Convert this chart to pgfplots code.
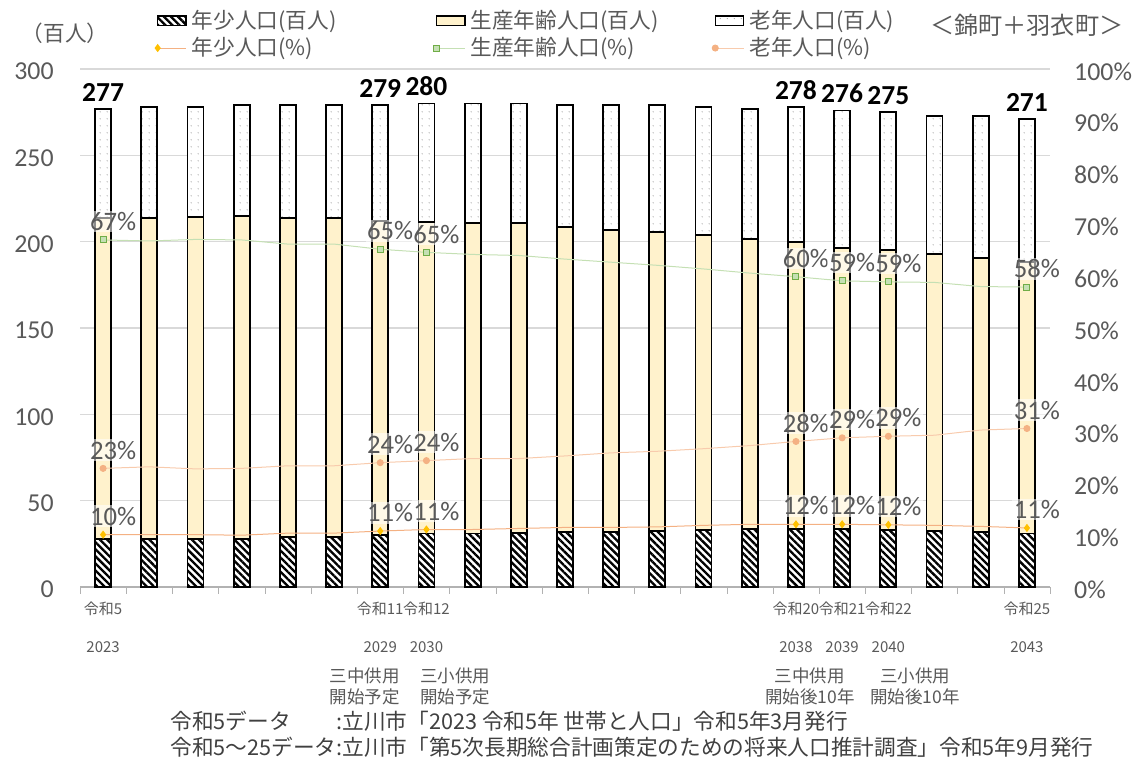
\documentclass[border=0pt]{standalone}
\usepackage{fontspec}
\setmainfont{Carlito}
\newfontfamily\jp{Noto Sans CJK JP}
\usepackage{pgfplots}
\pgfplotsset{compat=1.18}
\usepackage{pgfplotstable}
\usetikzlibrary{patterns.meta}

\definecolor{txtgray}{HTML}{595959}
\definecolor{gridc}{HTML}{D9D9D9}
\definecolor{prodfill}{HTML}{FFF2CC}
\definecolor{youthline}{HTML}{F4B183}
\definecolor{youthmark}{HTML}{FFC000}
\definecolor{prodline}{HTML}{C5E0B4}
\definecolor{prodmark}{HTML}{70AD47}
\definecolor{oldline}{HTML}{F8CBAD}
\definecolor{oldmark}{HTML}{F4B183}

% population, hundreds of people
\pgfplotstableread{
x young prod old tot
0 28 185.5 63.5 277
1 28 185.6 64.4 {}
2 28 186.5 63.5 {}
3 28 187 64 {}
4 29 184.6 65.4 {}
5 29 184.6 65.4 {}
6 30 182 67 279
7 31 180.6 68.4 280
8 31 179.7 69.3 {}
9 31.5 179.2 69.3 {}
10 32 176.5 70.5 {}
11 32 174.8 72.2 {}
12 32.5 173.3 73.2 {}
13 33 170.8 74.2 {}
14 33.5 168 75.5 {}
15 33.5 166.5 78 278
16 33.5 163 79.5 276
17 33 162 80 275
18 32.5 160.5 80 {}
19 32 158.3 82.7 {}
20 31 157 83 271
}\pop

% shares, percent
\pgfplotstableread{
x py pp po
0 10.1 67.0 22.9
1 10.1 66.8 23.2
2 10.1 67.1 22.8
3 10.0 67.0 22.9
4 10.4 66.2 23.4
5 10.4 66.2 23.4
6 10.8 65.2 24.0
7 11.1 64.6 24.4
8 11.1 64.2 24.8
9 11.3 64.0 24.8
10 11.5 63.3 25.3
11 11.5 62.7 25.9
12 11.6 62.1 26.2
13 11.9 61.4 26.7
14 12.1 60.6 27.3
15 12.1 59.9 28.1
16 12.1 59.1 28.8
17 12.0 58.9 29.1
18 11.9 58.8 29.3
19 11.7 58.0 30.3
20 11.4 57.9 30.6
}\pct

\tikzset{
  youthbar/.style={draw=black, line width=1.1pt, fill=white,
    postaction={pattern={Lines[angle=-45,distance=3pt,line width=1.4pt]}, pattern color=black}},
  prodbar/.style={draw=black, line width=1.1pt, fill=prodfill},
  oldbar/.style={draw=black, line width=1.1pt, fill=white,
    postaction={pattern={Dots[distance=4pt,radius=0.35pt]}, pattern color=gray}},
  pctlabel/.style={font=\fontsize{16}{18}\selectfont, text=txtgray, fill=white, fill opacity=0.55, text opacity=1, inner sep=1pt, anchor=center, xshift=6pt, yshift=11pt},
  note/.style={font=\jp\fontsize{10.5}{12.6}\selectfont, text=txtgray, align=center, inner sep=0pt},
}
\pgfplotsset{
  plotframe/.style={at={(48pt,111pt)}, anchor=south west, scale only axis, width=582pt, height=310.8pt, xmin=-0.5, xmax=20.5},
}

\begin{document}
\begin{tikzpicture}
\useasboundingbox (0,0) rectangle (688.2pt,463.2pt);

\begin{axis}[
  plotframe,
  ybar stacked, bar width=9.6pt,
  ymin=0, ymax=300,
  axis x line*=bottom, axis y line*=left,
  y axis line style={draw=none},
  x axis line style={draw=gray!60, line width=0.8pt},
  ytick={0,50,...,300}, ytick style={draw=none},
  ymajorgrids, grid style={gridc, line width=0.8pt},
  /pgf/number format/assume math mode=true,
  yticklabel style={font=\fontsize{15.5}{17}\selectfont, text=txtgray, xshift=-8pt, yshift=-1.5pt},
  xtick={0,6,7,15,16,17,20},
  xticklabels={
    {令和5\\[10.5pt]2023},
    {令和11\\[10.5pt]2029},
    {令和12\\[10.5pt]2030},
    {令和20\\[10.5pt]2038},
    {令和21\\[10.5pt]2039},
    {令和22\\[10.5pt]2040},
    {令和25\\[10.5pt]2043}},
  xticklabel style={font=\jp\fontsize{9}{12.6}\selectfont, text=txtgray, align=center, anchor=north, yshift=-1pt},
  major x tick style={draw=none},
  minor xtick={-0.5,0.5,...,20.5},
  minor x tick style={draw=gray!60},
  minor tick length=4pt, tick align=outside,
  clip=false,
]
\addplot[youthbar] table[x=x, y=young]{\pop};
\addplot[prodbar] table[x=x, y=prod]{\pop};
\addplot[oldbar] table[x=x, y=old]{\pop};
\node[note] at (axis cs:5.67,-57.6) {三中供用\\開始予定};
\node[note] at (axis cs:7.62,-57.6) {三小供用\\開始予定};
\node[note] at (axis cs:15.3,-57.6) {三中供用\\開始後10年};
\node[note] at (axis cs:17.58,-57.6) {三小供用\\開始後10年};
\end{axis}

% totals above the stacks
\begin{axis}[
  plotframe, ymin=0, ymax=300, hide axis,
]
\addplot[draw=none, point meta=explicit symbolic, nodes near coords,
  nodes near coords style={font=\bfseries\fontsize{16.5}{18}\selectfont, text=black, anchor=south, yshift=1pt}]
  table[x=x, y expr=\thisrow{young}+\thisrow{prod}+\thisrow{old}, meta=tot]{\pop};
\end{axis}

\begin{axis}[
  plotframe, ymin=0, ymax=100,
  axis x line=none, axis y line*=right,
  y axis line style={draw=none},
  ytick={0,10,...,100}, ytick style={draw=none},
  /pgf/number format/assume math mode=true,
  yticklabel={\pgfmathprintnumber{\tick}\%},
  yticklabel style={font=\fontsize{15.5}{17}\selectfont, text=txtgray, xshift=11pt, yshift=-1.5pt},
  legend style={at={(0.072,1.127)}, anchor=north west, draw=none, fill=none,
    font=\jp\fontsize{13}{15}\selectfont, text=txtgray, legend columns=3,
    row sep=0pt, column sep=1pt},
  legend cell align=left,
]
\addlegendimage{area legend, youthbar, line width=0.8pt}
\addlegendentry{\makebox[142pt][l]{年少人口(百人)}}
\addlegendimage{area legend, prodbar, line width=0.8pt}
\addlegendentry{\makebox[142pt][l]{生産年齢人口(百人)}}
\addlegendimage{area legend, oldbar, line width=0.8pt}
\addlegendentry{\makebox[142pt][l]{老年人口(百人)}}

\addplot[youthline, line width=0.6pt, mark=diamond*, mark size=2pt,
  mark options={draw=youthmark, fill=youthmark},
  mark indices={1,7,8,16,17,18,21},
  nodes near coords={\pgfmathprintnumber[fixed,precision=0]{\pgfplotspointmeta}\%},
  nodes near coords style={pctlabel}]
  table[x=x, y=py]{\pct};
\addlegendentry{年少人口(\%)}
\addplot[prodline, line width=0.6pt, mark=square*, mark size=1.8pt,
  mark options={draw=prodmark, fill=prodline},
  mark indices={1,7,8,16,17,18,21},
  nodes near coords={\pgfmathprintnumber[fixed,precision=0]{\pgfplotspointmeta}\%},
  nodes near coords style={pctlabel}]
  table[x=x, y=pp]{\pct};
\addlegendentry{生産年齢人口(\%)}
\addplot[oldline, line width=0.6pt, mark=*, mark size=1.8pt,
  mark options={draw=oldmark, fill=oldmark},
  mark indices={1,7,8,16,17,18,21},
  nodes near coords={\pgfmathprintnumber[fixed,precision=0]{\pgfplotspointmeta}\%},
  nodes near coords style={pctlabel}]
  table[x=x, y=po]{\pct};
\addlegendentry{老年人口(\%)}
\end{axis}

\node[font=\jp\fontsize{13}{15}\selectfont, text=txtgray] at (39pt,443.4pt) {（百人）};
\node[font=\jp\fontsize{14.5}{16}\selectfont, text=txtgray] at (616pt,448pt) {＜錦町＋羽衣町＞};
\node[anchor=base west, font=\jp\fontsize{13}{15.6}\selectfont, text=black!75, inner sep=0pt] at (102pt,10pt)
  {\begin{tabular}[b]{@{}l@{}l@{}}
   令和5データ & :立川市「2023 令和5年 世帯と人口」令和5年3月発行\\
   令和5～25データ & :立川市「第5次長期総合計画策定のための将来人口推計調査」令和5年9月発行
   \end{tabular}};
\end{tikzpicture}
\end{document}
